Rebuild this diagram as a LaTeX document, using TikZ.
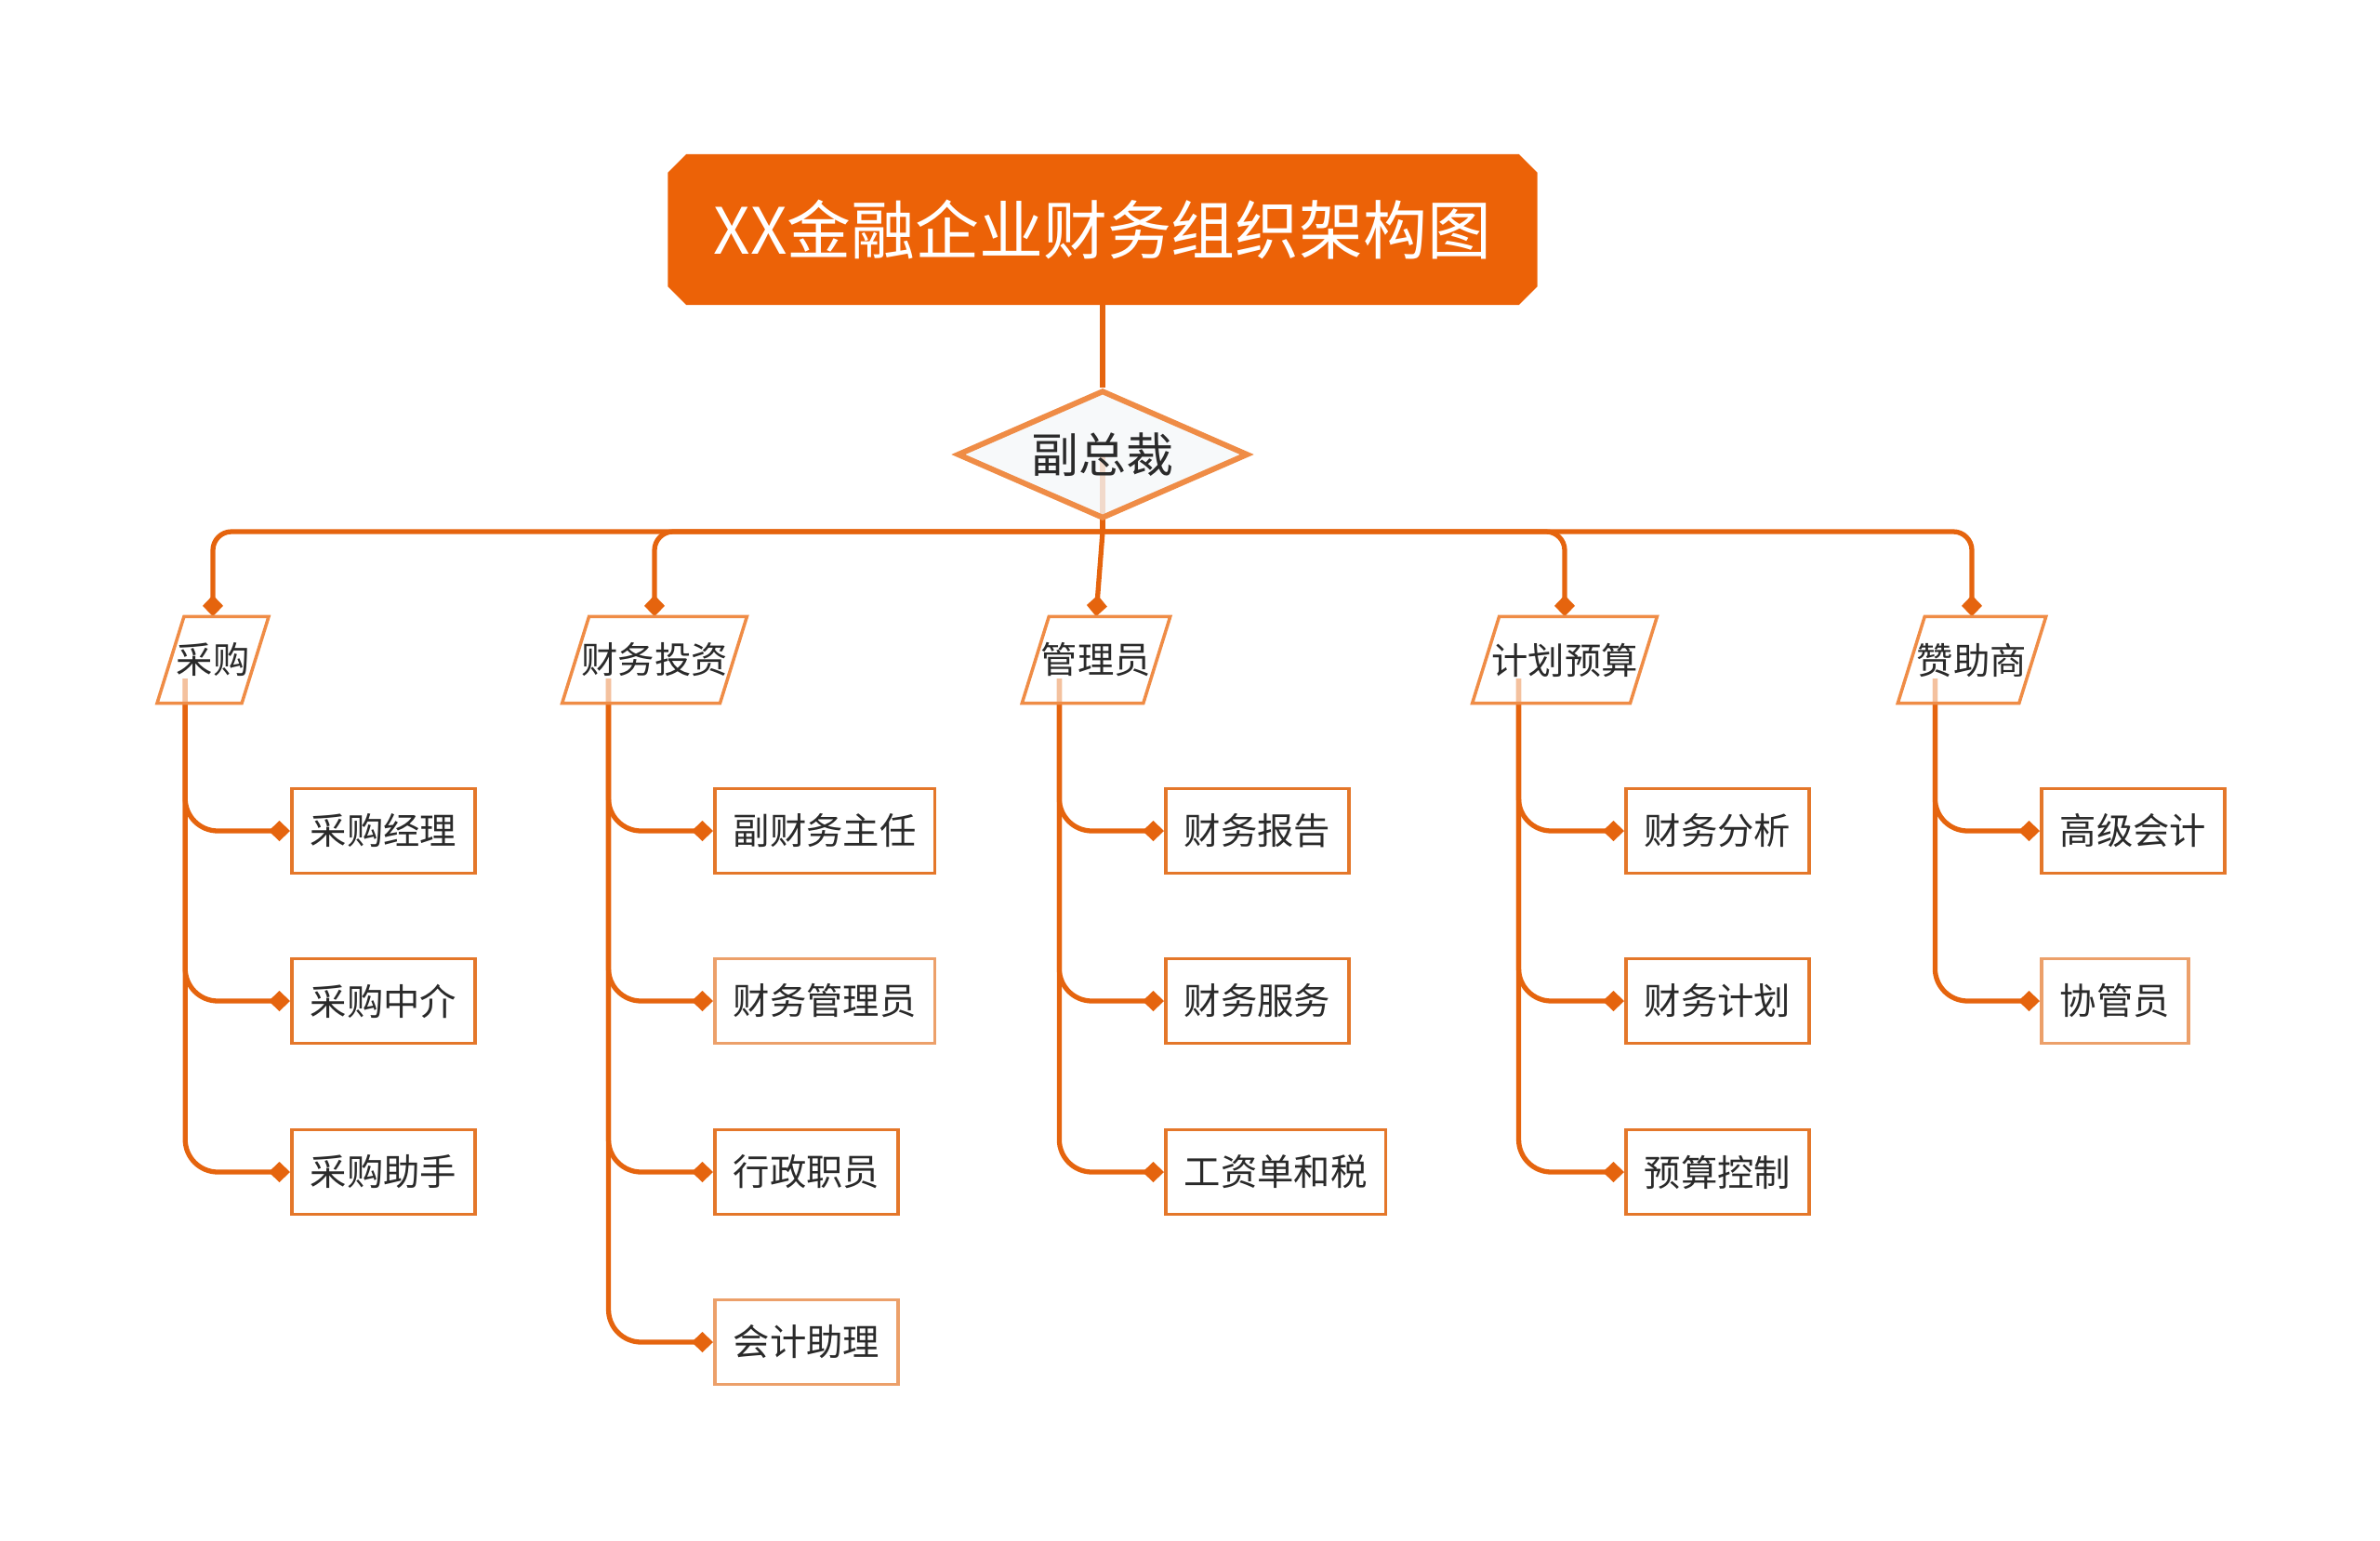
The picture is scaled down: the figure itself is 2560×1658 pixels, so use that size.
\documentclass[tikz,border=0pt]{standalone}
\usepackage{fontspec}
\setmainfont{Noto Sans CJK SC}
\usetikzlibrary{arrows.meta,backgrounds,shapes.geometric,calc}
\definecolor{titleorange}{HTML}{EC6207}
\definecolor{lineorange}{HTML}{E5640E}
\definecolor{paleorange}{HTML}{EF8C46}
\definecolor{boxorange}{HTML}{E4772A}
\definecolor{lightboxorange}{HTML}{ECA06A}
\definecolor{inkgray}{HTML}{2A2A2A}
\definecolor{diamondfill}{HTML}{F5F7F9}

\begin{document}
\begin{tikzpicture}[x=0.1mm,y=-0.1mm,
  titlebox/.style={minimum width=93.4mm,minimum height=16.1mm,inner sep=0pt,text=white,font=\fontsize{19.6}{23}\selectfont},
  vpdiamond/.style={diamond,aspect=2.27,draw=paleorange,line width=1.7pt,fill=diamondfill,fill opacity=0.8,text opacity=1,minimum width=31.3mm,minimum height=13.8mm,inner sep=0pt,text=inkgray,font=\fontsize{14.5}{17}\selectfont},
  deptnode/.style={inner xsep=0.55mm,inner ysep=0pt,minimum height=9.2mm,text=inkgray,font=\fontsize{11.2}{13}\selectfont},
  deptframe/.style={draw=paleorange,line width=1pt,fill=white,fill opacity=0.6},
  postbox/.style={draw=boxorange,line width=1pt,fill=white,anchor=west,inner xsep=2mm,inner ysep=0pt,minimum height=9.1mm,text=inkgray,font=\fontsize{11.2}{13}\selectfont},
  postlight/.style={postbox,draw=lightboxorange},
  linkline/.style={draw=lineorange,line width=1.5pt,rounded corners=2mm,-{Diamond[length=2.3mm,width=2.2mm]}},
  branchline/.style={linkline,rounded corners=3.5mm}]
\useasboundingbox (0,0) rectangle (2560,1658);

\node[titlebox] (tt) at (1186,247) {XX金融企业财务组织架构图};
\node[vpdiamond] (vp) at (1186,489) {副总裁};

\node[deptnode] (cg) at (229,710) {采购};
\node[deptnode] (cwtz) at (704,710) {财务投资};
\node[deptnode] (gly) at (1179,710) {管理员};
\node[deptnode] (jhys) at (1683,710) {计划预算};
\node[deptnode] (zzs) at (2121,710) {赞助商};

\node[postbox] (cgjl) at (312,894) {采购经理};
\node[postbox] (cgzj) at (312,1077) {采购中介};
\node[postbox] (cgzs) at (312,1261) {采购助手};
\node[postbox] (fcwzr) at (767,894) {副财务主任};
\node[postlight] (cwgly) at (767,1077) {财务管理员};
\node[postbox] (xzzy) at (767,1261) {行政职员};
\node[postlight] (kjzl) at (767,1444) {会计助理};
\node[postbox] (cwbg) at (1252,894) {财务报告};
\node[postbox] (cwfw) at (1252,1077) {财务服务};
\node[postbox] (gzdhs) at (1252,1261) {工资单和税};
\node[postbox] (cwfx) at (1747,894) {财务分析};
\node[postbox] (cwjh) at (1747,1077) {财务计划};
\node[postbox] (yskz) at (1747,1261) {预算控制};
\node[postbox] (gjkj) at (2194,894) {高级会计};
\node[postlight] (xgy) at (2194,1077) {协管员};

\begin{scope}[on background layer]
\fill[titleorange] ([xshift=2mm]tt.north west) -- ([xshift=-2mm]tt.north east) -- ([yshift=-2mm]tt.north east)
  -- ([yshift=2mm]tt.south east) -- ([xshift=-2mm]tt.south east) -- ([xshift=2mm]tt.south west)
  -- ([yshift=2mm]tt.south west) -- ([yshift=-2mm]tt.north west) -- cycle;
\draw[lineorange,line width=1.5pt] (tt.south) -- (vp.north);
\coordinate (bus) at (1186,572);
\draw[lineorange,line width=1.5pt] (vp.center) -- (bus);
\foreach \d in {cg,cwtz,jhys,zzs}
  \draw[linkline] (bus) -| (\d.north);
\draw[linkline] (bus) -- (gly.north);

\foreach \d/\p in {cg/cgjl,cg/cgzj,cg/cgzs,cwtz/fcwzr,cwtz/cwgly,cwtz/xzzy,cwtz/kjzl,
    gly/cwbg,gly/cwfw,gly/gzdhs,jhys/cwfx,jhys/cwjh,jhys/yskz,zzs/gjkj,zzs/xgy}
  \draw[branchline] ($(\d.west)!0.25!(\d.east)+(-7,20)$) |- (\p.west);

% parallelograms over the line starts
\foreach \d in {cg,cwtz,gly,jhys,zzs}
  \draw[deptframe] ([xshift=1.45mm]\d.north west) -- ([xshift=1.45mm]\d.north east)
    -- ([xshift=-1.45mm]\d.south east) -- ([xshift=-1.45mm]\d.south west) -- cycle;
\end{scope}
\end{tikzpicture}
\end{document}
